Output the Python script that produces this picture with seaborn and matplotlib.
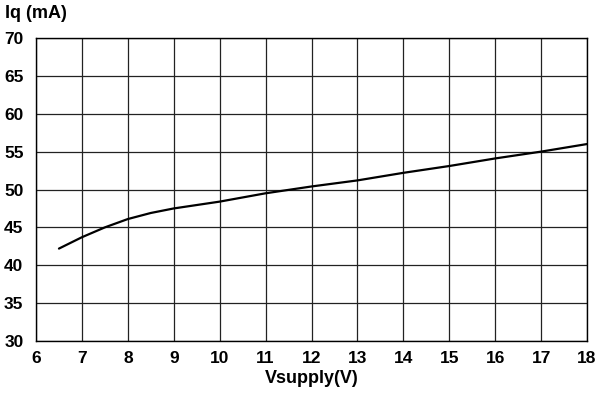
import matplotlib
matplotlib.use("Agg")
import matplotlib.pyplot as plt
import seaborn as sns
import pandas as pd

# valori
vsupply = [6.5, 7, 7.5, 8, 8.5, 9, 10, 11, 12, 13, 14, 15, 16, 17, 18]
iq = [42.2, 43.7, 45.0, 46.1, 46.9, 47.5, 48.4, 49.5, 50.4, 51.2, 52.2, 53.1, 54.1, 55.0, 56.0]
x_ticks = list(range(6, 19))
y_ticks = list(range(30, 71, 5))

df = pd.DataFrame({"Vsupply": vsupply, "Iq": iq})

sns.set_theme(style="white")
plt.rcParams["font.family"] = ["Liberation Sans", "DejaVu Sans"]

fig = plt.figure(figsize=(5.96, 4.05), dpi=100)
ax = fig.add_axes([36 / 596, 1 - 341 / 405, 551 / 596, 303 / 405])

sns.lineplot(data=df, x="Vsupply", y="Iq", color="black", linewidth=1.6, ax=ax, zorder=3)

ax.set_xlim(6, 18)
ax.set_ylim(30, 70)
ax.set_xticks(x_ticks)
ax.set_yticks(y_ticks)
ax.grid(True, color="#222222", linewidth=0.9)
for s in ax.spines.values():
    s.set_color("black")
    s.set_linewidth(1.0)
ax.tick_params(axis="both", length=0, labelsize=12.5, labelcolor="black")
ax.tick_params(axis="x", pad=7)
ax.tick_params(axis="y", pad=9)
for lab in ax.get_xticklabels() + ax.get_yticklabels():
    lab.set_fontweight("bold")
ax.set_xlabel("Vsupply(V)", fontsize=13, fontweight="bold", labelpad=3, color="black")
ax.set_ylabel("")
fig.text(5 / 596, 1 - 13 / 405, "Iq (mA)", fontsize=13, fontweight="bold", va="center", ha="left", color="black")

fig.savefig("out.png", dpi=100)
